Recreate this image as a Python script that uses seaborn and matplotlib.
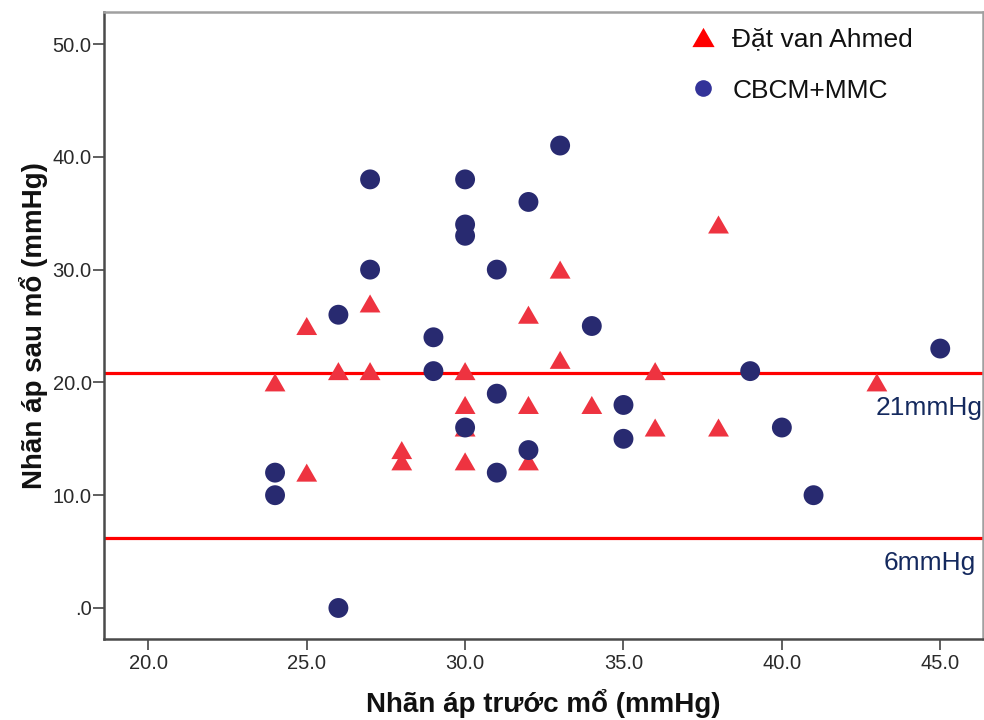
import matplotlib
matplotlib.use("Agg")
import matplotlib.pyplot as plt
from matplotlib.lines import Line2D
from matplotlib.ticker import FuncFormatter
import seaborn as sns
import pandas as pd

# ---- data ----
group_names = ["Đặt van Ahmed", "CBCM+MMC"]
ahmed_x = [24, 25, 25, 26, 27, 27, 28, 28, 30, 30, 30, 30, 32, 32, 32, 33, 33, 34, 36, 36, 38, 38, 43]
ahmed_y = [20, 25, 12, 21, 27, 21, 14, 13, 21, 18, 16, 13, 26, 18, 13, 30, 22, 18, 21, 16, 34, 16, 20]
cbcm_x = [24, 24, 26, 26, 27, 27, 29, 29, 30, 30, 30, 30, 31, 31, 31, 32, 32, 33, 34, 35, 35, 39, 40, 41, 45]
cbcm_y = [12, 10, 26, 0, 38, 30, 24, 21, 38, 34, 33, 16, 30, 19, 12, 36, 14, 41, 25, 18, 15, 21, 16, 10, 23]
ref_values = [20.8, 6.2]
ref_labels = ["21mmHg", "6mmHg"]
x_ticks = [20, 25, 30, 35, 40, 45]
y_ticks = [0, 10, 20, 30, 40, 50]
x_label = "Nhãn áp trước mổ (mmHg)"
y_label = "Nhãn áp sau mổ (mmHg)"

df = pd.DataFrame({
    "pre": ahmed_x + cbcm_x,
    "post": ahmed_y + cbcm_y,
    "group": [group_names[0]] * len(ahmed_x) + [group_names[1]] * len(cbcm_x),
})

sns.set_theme(style="white")
plt.rcParams["font.family"] = ["Liberation Sans", "DejaVu Sans"]

fig = plt.figure(figsize=(9.84, 7.2), dpi=100)
ax = fig.add_axes([104 / 984, 1 - 639 / 720, (983 - 104) / 984, (639 - 12) / 720])

tri = [(0, 0.866), (-1, -0.866), (1, -0.866)]
palette = {group_names[0]: "#EE3340", group_names[1]: "#282A70"}
markers = {group_names[0]: tri, group_names[1]: "o"}
sizes = {group_names[0]: 225, group_names[1]: 205}

sns.scatterplot(data=df, x="pre", y="post", hue="group", style="group",
                size="group", sizes=sizes,
                palette=palette, markers=markers, linewidth=0, legend=False,
                ax=ax, zorder=3)

for v in ref_values:
    ax.axhline(v, color="#FF0000", lw=2.3, zorder=2)

ax.text(46.33, 17.7, ref_labels[0], ha="right", va="center", fontsize=19, color="#14295E")
ax.text(46.14, 4.0, ref_labels[1], ha="right", va="center", fontsize=19, color="#14295E")

ax.set_xlim(18.6, 46.35)
ax.set_ylim(-2.75, 52.84)
ax.set_xticks(x_ticks)
ax.set_yticks(y_ticks)
fmt = FuncFormatter(lambda v, p: (f"{v:.1f}"[1:] if v == 0 else f"{v:.1f}"))
ax.xaxis.set_major_formatter(fmt)
ax.yaxis.set_major_formatter(fmt)
ax.tick_params(axis="both", which="major", direction="out", length=8, width=1.2,
               color="#444444", labelsize=14.5, labelcolor="#2a2a2a",
               bottom=True, left=True)
ax.tick_params(axis="y", pad=1)
ax.tick_params(axis="x", pad=3)

for side in ["left", "bottom"]:
    ax.spines[side].set_color("#4a4a4a")
    ax.spines[side].set_linewidth(1.8)
for side in ["top", "right"]:
    ax.spines[side].set_color("#a0a0a0")
    ax.spines[side].set_linewidth(1.8)

ax.set_xlabel(x_label, fontsize=20, fontweight="bold", color="#111111", labelpad=11)
ax.set_ylabel(y_label, fontsize=20, fontweight="bold", color="#111111", labelpad=3)

handles = [
    Line2D([], [], linestyle="none", marker=tri, markersize=16, color="#FF0000", markeredgewidth=0),
    Line2D([], [], linestyle="none", marker="o", markersize=12, color="#333399", markeredgewidth=0),
]
leg = ax.legend(handles, group_names, loc="upper left",
                bbox_to_anchor=(690 / 984, 1 - 27 / 720), bbox_transform=fig.transFigure,
                frameon=False, fontsize=19, handlelength=1.0, handletextpad=0.6,
                labelspacing=1.05, borderpad=0, borderaxespad=0)
for t in leg.get_texts():
    t.set_color("#111111")

fig.savefig("out.png", dpi=100)
